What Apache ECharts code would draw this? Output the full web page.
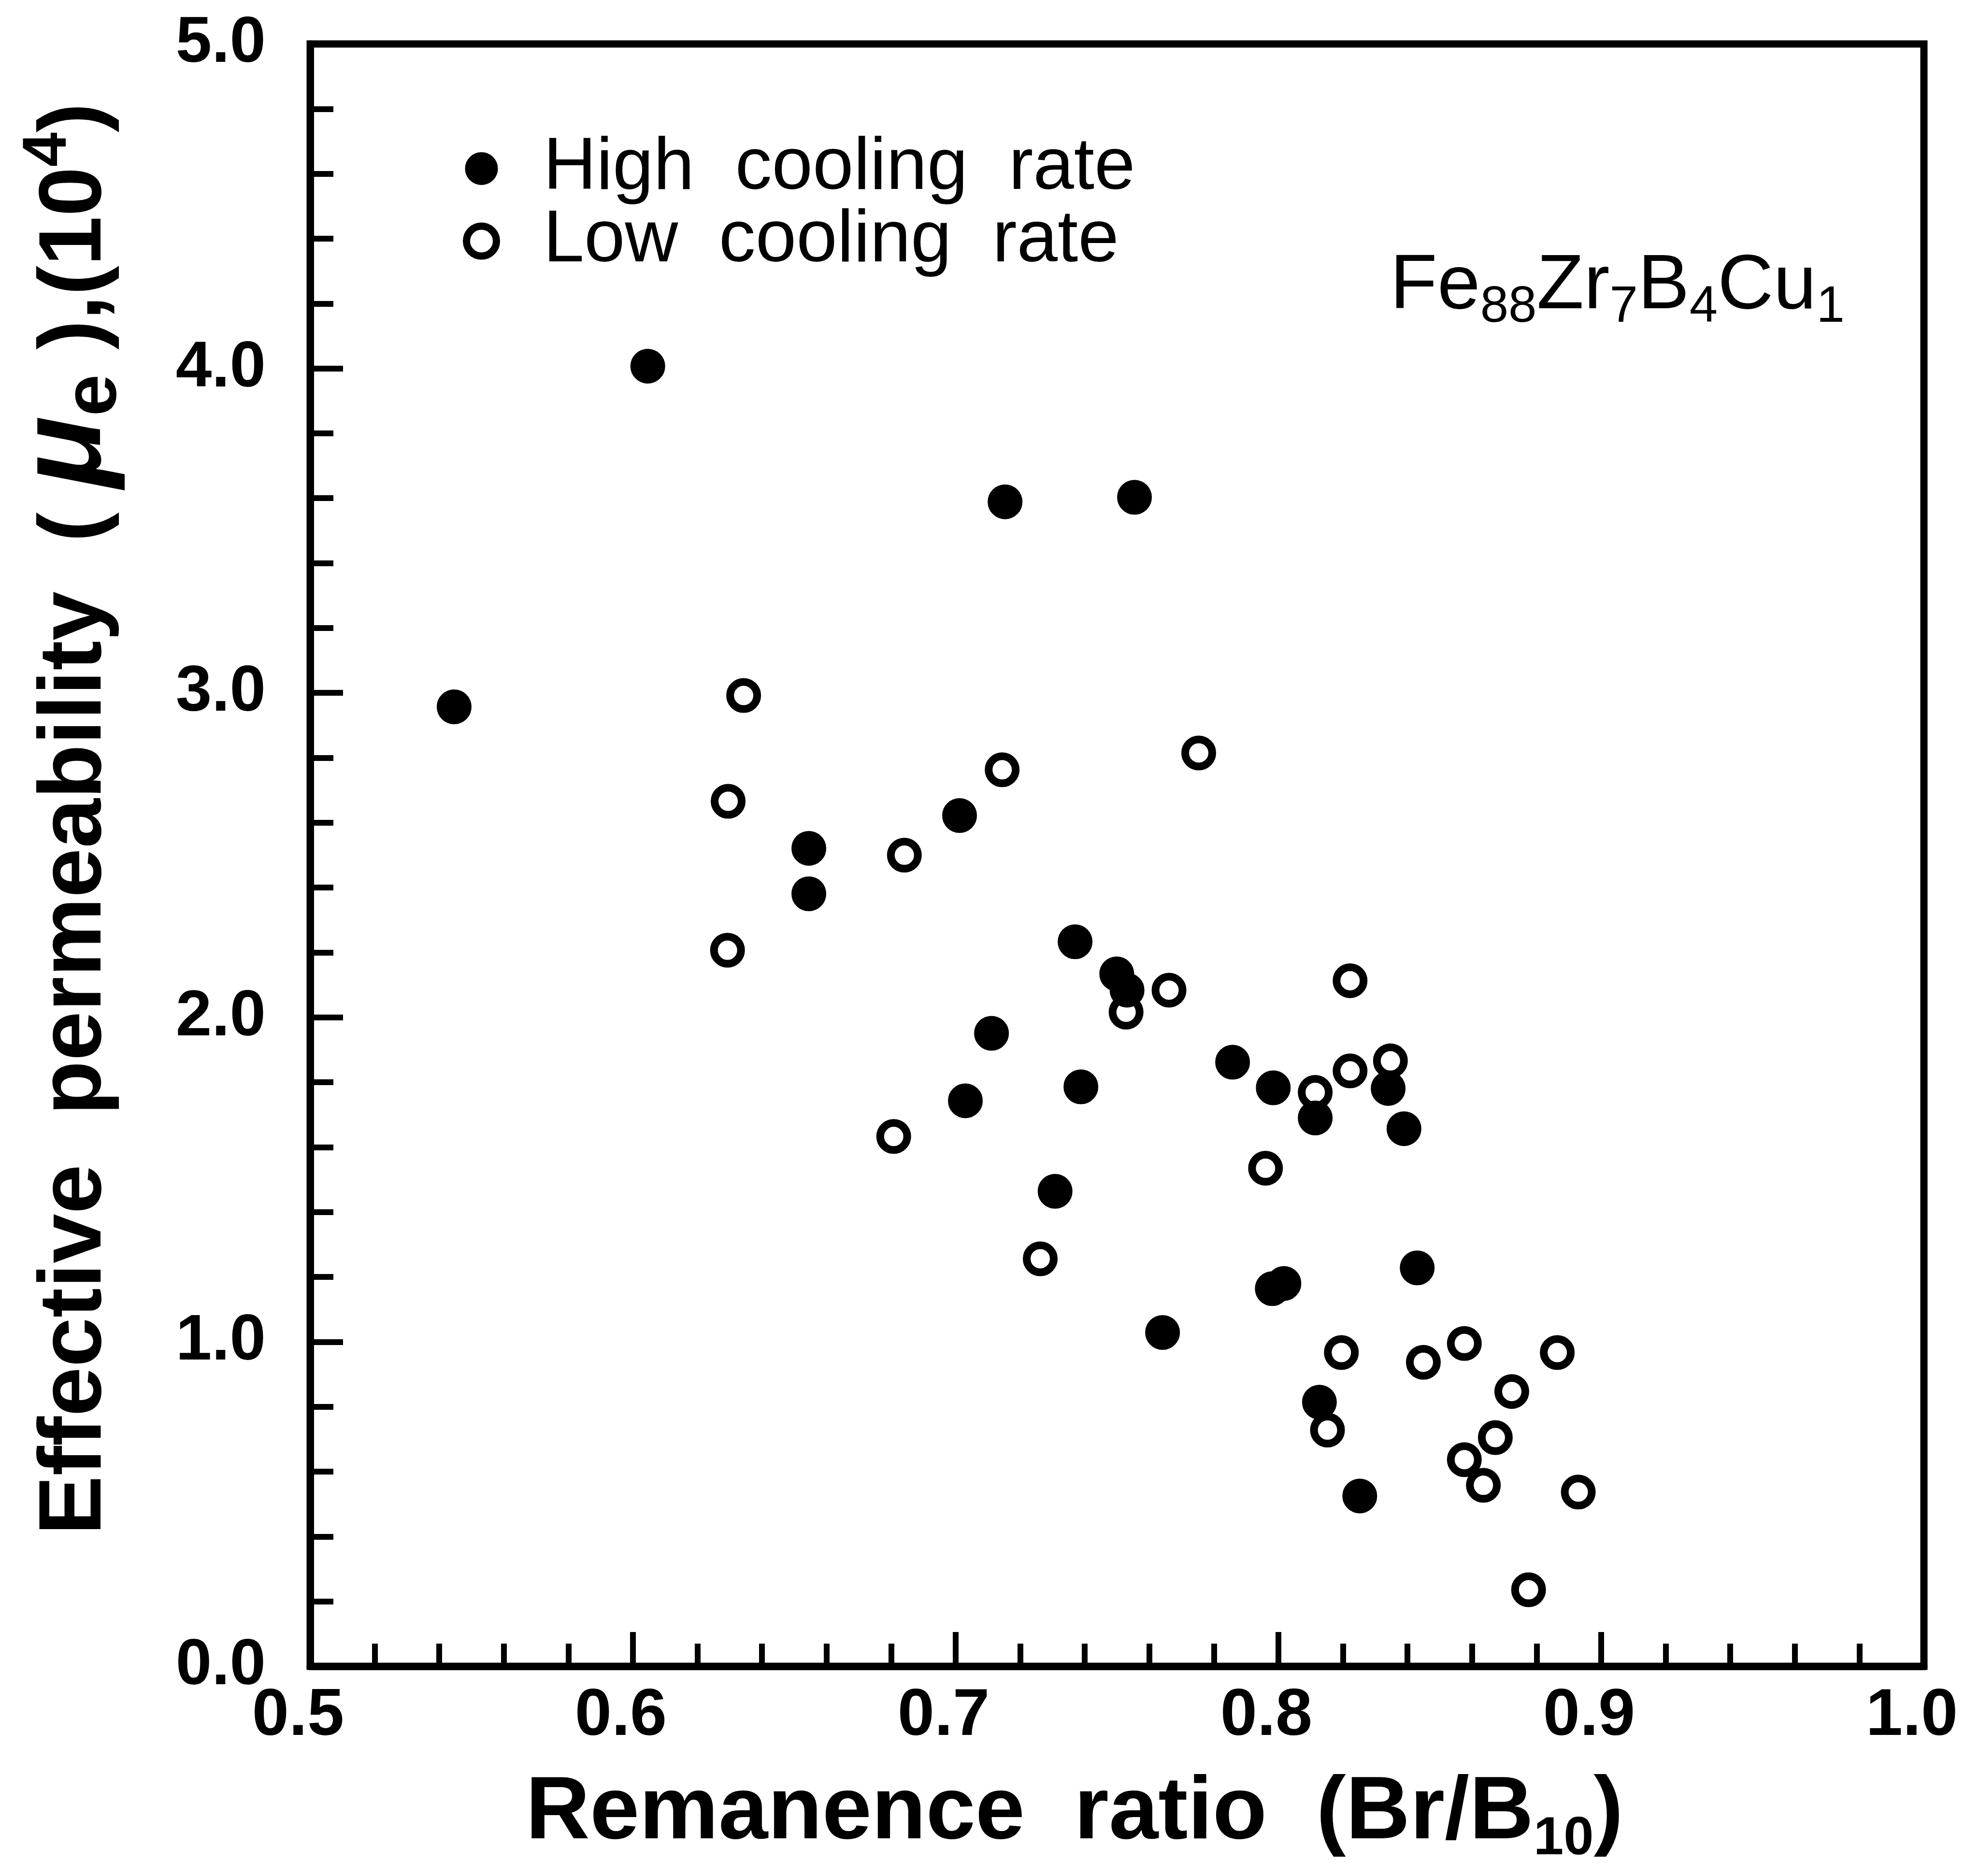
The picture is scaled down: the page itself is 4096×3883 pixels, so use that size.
<!DOCTYPE html>
<html><head><meta charset="utf-8">
<script src="https://cdn.jsdelivr.net/npm/echarts@6/dist/echarts.min.js"></script>
<style>html,body{margin:0;padding:0;background:#fff}#c{width:4096px;height:3883px}</style>
</head><body><div id="c"></div><script>
const highCoolingX = [0.5446, 0.6046, 0.7153, 0.7554, 0.6545, 0.6545, 0.7012, 0.7370, 0.7499, 0.7531, 0.7111, 0.7030, 0.7388, 0.7308, 0.7858, 0.7984, 0.8114, 0.8340, 0.8389, 0.7981, 0.8017, 0.7641, 0.8430, 0.8127, 0.8252];
const highCoolingY = [2.957, 4.007, 3.589, 3.603, 2.521, 2.381, 2.622, 2.233, 2.134, 2.084, 1.951, 1.743, 1.786, 1.464, 1.862, 1.783, 1.690, 1.781, 1.657, 1.164, 1.180, 1.029, 1.228, 0.814, 0.525];
const lowCoolingX = [0.6343, 0.6295, 0.6293, 0.7144, 0.6841, 0.7753, 0.7661, 0.7528, 0.6808, 0.7262, 0.7960, 0.8222, 0.8222, 0.8114, 0.8347, 0.8195, 0.8152, 0.8449, 0.8576, 0.8576, 0.8635, 0.8672, 0.8723, 0.8864, 0.8929, 0.8775];
const lowCoolingY = [2.992, 2.666, 2.207, 2.763, 2.500, 2.815, 2.084, 2.016, 1.633, 1.256, 1.535, 2.113, 1.835, 1.769, 1.866, 0.967, 0.728, 0.937, 0.995, 0.637, 0.558, 0.705, 0.847, 0.967, 0.537, 0.236];
const xTickLabels = ['0.5', '0.6', '0.7', '0.8', '0.9', '1.0'];
const yTickLabels = ['0.0', '1.0', '2.0', '3.0', '4.0', '5.0'];
const seriesNames = ['High  cooling  rate', 'Low  cooling  rate'];

const FONT = 'Liberation Sans';
const chart = echarts.init(document.getElementById('c'), null, {renderer: 'canvas'});
const pairs = (xs, ys) => xs.map((x, i) => [x, ys[i]]);

chart.setOption({
  animation: false,
  backgroundColor: '#fff',
  title: {
    text: 'Fe{s|88}Zr{s|7}B{s|4}Cu{s|1}',
    left: 2877, top: 514, padding: 0,
    textStyle: {
      fontFamily: FONT, fontSize: 160, fontWeight: 'normal', color: '#000', lineHeight: 160,
      rich: { s: { fontFamily: FONT, fontSize: 105, lineHeight: 105, padding: [86, 0, 0, 0], color: '#000' } }
    }
  },
  legend: {
    orient: 'vertical', left: 958, top: 273, padding: 0,
    itemWidth: 62, itemHeight: 62, itemGap: -2,
    selectedMode: false,
    formatter: n => '{g|}' + n,
    textStyle: {
      fontFamily: FONT, fontSize: 152, color: '#000', lineHeight: 100,
      rich: { g: { width: 92, fontSize: 152, lineHeight: 100 } }
    },
    data: [
      { name: seriesNames[0], icon: 'circle', itemStyle: { color: '#000', borderColor: '#000', borderWidth: 6 } },
      { name: seriesNames[1], icon: 'circle', itemStyle: { color: 'rgba(0,0,0,0)', borderColor: '#000', borderWidth: 15 } }
    ]
  },
  grid: {
    left: 642, right: 114, top: 91, bottom: 434,
    containLabel: false, outerBoundsMode: 'none',
    show: true, borderColor: '#000', borderWidth: 15, backgroundColor: 'transparent'
  },
  xAxis: {
    type: 'value', min: 0.5, max: 1.0, interval: 0.1,
    splitLine: { show: false },
    axisLine: { show: true, onZero: false, lineStyle: { color: '#000', width: 15 } },
    axisTick: { show: true, inside: true, length: 71, lineStyle: { color: '#000', width: 12 } },
    minorTick: { show: true, splitNumber: 5, length: 47, lineStyle: { color: '#000', width: 12 } },
    axisLabel: {
      show: true, margin: 36, fontFamily: FONT, fontSize: 137, fontWeight: 'bold', color: '#000',
      padding: [0, 50, 0, 0],
      formatter: (v, i) => xTickLabels[i]
    },
    name: 'Remanence  ratio  (Br/B{sub|10})',
    nameLocation: 'middle', nameGap: 205, nameMoveOverlap: false,
    nameTextStyle: {
      fontFamily: FONT, fontSize: 184, fontWeight: 'bold', color: '#000', lineHeight: 200,
      padding: [0, 176, 0, 0],
      rich: { sub: { fontFamily: FONT, fontSize: 112, fontWeight: 'bold', lineHeight: 112, padding: [106, 0, 0, 0], color: '#000' } }
    }
  },
  yAxis: {
    type: 'value', min: 0, max: 5, interval: 1,
    splitLine: { show: false },
    axisLine: { show: true, onZero: false, lineStyle: { color: '#000', width: 15 } },
    axisTick: { show: true, inside: true, length: 68, lineStyle: { color: '#000', width: 12 } },
    minorTick: { show: true, splitNumber: 5, length: 48, lineStyle: { color: '#000', width: 12 } },
    axisLabel: {
      show: true, margin: 92, fontFamily: FONT, fontSize: 134, fontWeight: 'bold', color: '#000',
      formatter: (v, i) => yTickLabels[i]
    },
    name: 'Effective  permeability  ( {mu|μ}{e|e} ),(10{sup|4})',
    nameLocation: 'middle', nameGap: 362, nameMoveOverlap: false,
    nameTextStyle: {
      fontFamily: FONT, fontSize: 184, fontWeight: 'bold', color: '#000', lineHeight: 200,
      padding: [0, 0, 0, 150],
      rich: {
        mu: { fontFamily: FONT, fontSize: 245, fontWeight: 'bold', fontStyle: 'italic', lineHeight: 245, padding: [0, 0, 36, 0], color: '#000' },
        e: { fontFamily: FONT, fontSize: 156, fontWeight: 'bold', lineHeight: 156, padding: [76, 0, 0, 0], color: '#000' },
        sup: { fontFamily: FONT, fontSize: 128, fontWeight: 'bold', lineHeight: 128, padding: [0, 0, 114, 0], color: '#000' }
      }
    }
  },
  series: [
    {
      name: seriesNames[0], type: 'scatter', symbol: 'circle', symbolSize: 67,
      itemStyle: { color: '#000', borderColor: '#000', borderWidth: 5, opacity: 1 },
      emphasis: { disabled: true },
      data: pairs(highCoolingX, highCoolingY), z: 2
    },
    {
      name: seriesNames[1], type: 'scatter', symbol: 'circle', symbolSize: 56,
      itemStyle: { color: 'rgba(0,0,0,0)', borderColor: '#000', borderWidth: 16, opacity: 1 },
      emphasis: { disabled: true },
      data: pairs(lowCoolingX, lowCoolingY), z: 3
    }
  ]
});
</script></body></html>
